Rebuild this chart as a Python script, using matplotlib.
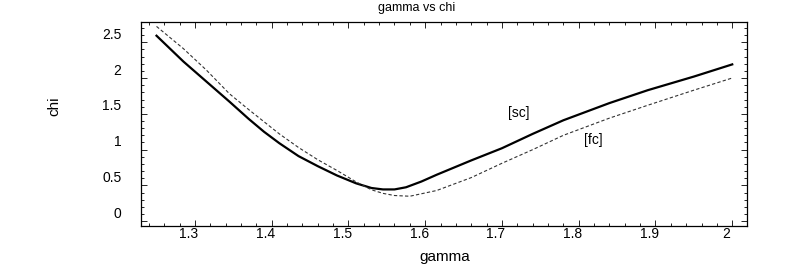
import matplotlib
matplotlib.use("Agg")
import matplotlib.pyplot as plt
from matplotlib.ticker import MultipleLocator
from matplotlib.transforms import ScaledTranslation

# Valores
gamma_sc = [1.25, 1.285, 1.315, 1.345, 1.37, 1.39, 1.41, 1.435, 1.46, 1.485,
            1.51, 1.53, 1.545, 1.56, 1.575, 1.595, 1.615, 1.66, 1.70, 1.74,
            1.78, 1.84, 1.89, 1.95, 2.00]
chi_sc = [2.59, 2.23, 1.95, 1.67, 1.43, 1.25, 1.09, 0.91, 0.77, 0.64,
          0.53, 0.465, 0.445, 0.445, 0.475, 0.555, 0.65, 0.85, 1.02, 1.22,
          1.41, 1.65, 1.83, 2.02, 2.19]

gamma_fc = [1.25, 1.285, 1.315, 1.345, 1.37, 1.39, 1.41, 1.435, 1.46, 1.485,
            1.51, 1.53, 1.545, 1.56, 1.58, 1.615, 1.66, 1.70, 1.74, 1.78,
            1.84, 1.89, 1.95, 2.00]
chi_fc = [2.72, 2.41, 2.11, 1.78, 1.56, 1.39, 1.22, 1.03, 0.86, 0.71,
          0.55, 0.44, 0.39, 0.36, 0.35, 0.43, 0.61, 0.81, 1.00, 1.20,
          1.44, 1.62, 1.83, 2.00]

x_ticks = [1.3, 1.4, 1.5, 1.6, 1.7, 1.8, 1.9, 2.0]
x_labels = ["1.3", "1.4", "1.5", "1.6", "1.7", "1.8", "1.9", "2"]
y_ticks = [0, 0.5, 1.0, 1.5, 2.0, 2.5]
y_labels = ["0", "0.5", "1", "1.5", "2", "2.5"]


def main():
    plt.rcParams['font.family'] = ['Liberation Sans', 'DejaVu Sans']
    fig = plt.figure(figsize=(8.1, 2.73), dpi=100)
    ax = fig.add_axes([0.174, 0.172, 0.748, 0.747])

    ax.plot(gamma_sc, chi_sc, color='black', lw=1.6)
    ax.plot(gamma_fc, chi_fc, color='#333333', lw=0.8, dashes=(3, 2))

    ax.text(1.722, 1.51, "[sc]", ha='center', va='center', fontsize=10)
    ax.text(1.8195, 1.135, "[fc]", ha='center', va='center', fontsize=10)

    ax.set_xlim(1.2297, 2.019)
    ax.set_ylim(-0.066, 2.78)

    ax.set_xticks(x_ticks)
    ax.set_xticklabels(x_labels, fontsize=10)
    ax.set_yticks(y_ticks)
    ax.set_yticklabels(y_labels, fontsize=10)
    ax.xaxis.set_minor_locator(MultipleLocator(0.02))
    ax.yaxis.set_minor_locator(MultipleLocator(0.1))
    ax.tick_params(which='both', direction='in', top=True, right=True, width=0.6)
    ax.tick_params(which='major', length=4)
    ax.tick_params(which='minor', length=2)
    ax.tick_params(axis='x', pad=1)
    ax.tick_params(axis='y', pad=14)
    for s in ax.spines.values():
        s.set_linewidth(0.9)

    # etiquetas desplazadas como en el original
    for t in ax.yaxis.get_major_ticks():
        t.label1.set_transform(t.label1.get_transform() +
                               ScaledTranslation(0, 0.09, fig.dpi_scale_trans))
    for t in ax.xaxis.get_major_ticks():
        t.label1.set_transform(t.label1.get_transform() +
                               ScaledTranslation(-0.06, 0, fig.dpi_scale_trans))

    fig.text(417 / 810, 1 - 11 / 273, "gamma vs chi", ha='center',
             va='baseline', fontsize=9)
    fig.text(54 / 810, 1 - 106 / 273, "chi", rotation=90, ha='center',
             va='center', fontsize=11)
    fig.text(445 / 810, 1 - 257 / 273, "gamma", ha='center', va='center',
             fontsize=11)

    fig.savefig("out.png", dpi=100)


if __name__ == "__main__":
    main()
